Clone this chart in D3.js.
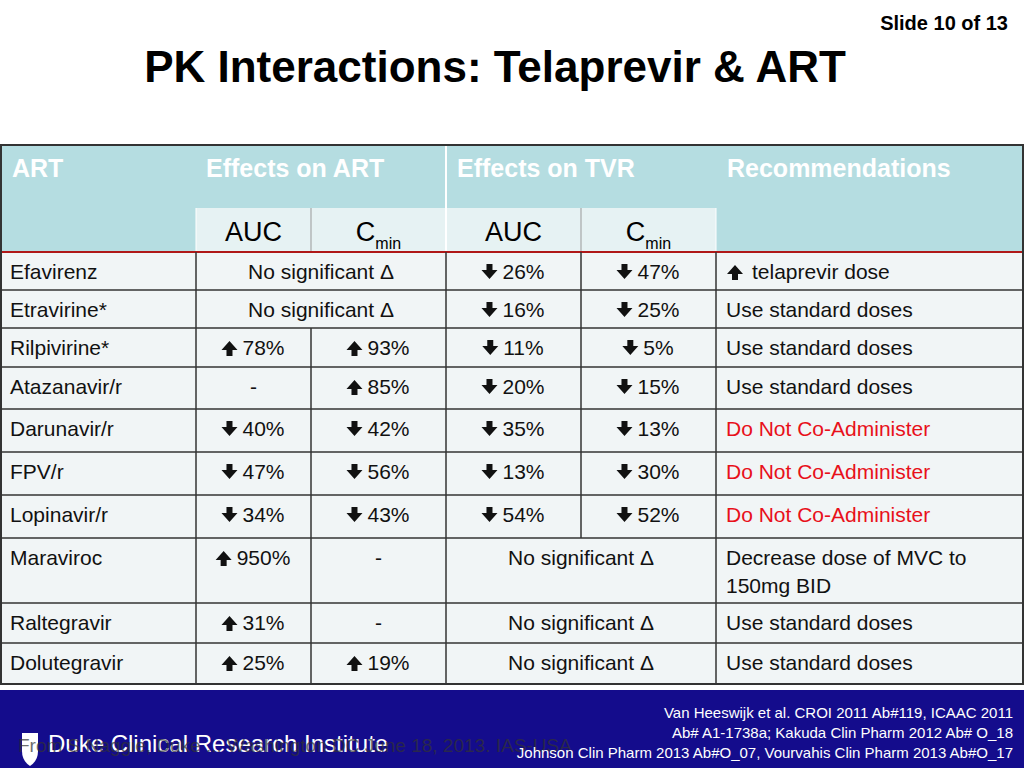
<!DOCTYPE html>
<html><head><meta charset="utf-8">
<script src="https://cdn.jsdelivr.net/npm/d3@7"></script>
<style>body{margin:0;background:#fff}svg{display:block;font-family:"Liberation Sans",Arial,sans-serif}</style>
</head><body>
<svg id="c" width="1024" height="768"></svg>
<script>
// table content: "d" = down arrow, "u" = up arrow, span cells marked with "|"
var drugs = ["Efavirenz","Etravirine*","Rilpivirine*","Atazanavir/r","Darunavir/r","FPV/r","Lopinavir/r","Maraviroc","Raltegravir","Dolutegravir"];
var artAuc  = ["|No significant Δ","|No significant Δ","u78%","-","d40%","d47%","d34%","u950%","u31%","u25%"];
var artCmin = [null,null,"u93%","u85%","d42%","d56%","d43%","-","-","u19%"];
var tvrAuc  = ["d26%","d16%","d11%","d20%","d35%","d13%","d54%","|No significant Δ","|No significant Δ","|No significant Δ"];
var tvrCmin = ["d47%","d25%","d5%","d15%","d13%","d30%","d52%",null,null,null];
var recs = ["u telaprevir dose","Use standard doses","Use standard doses","Use standard doses","Do Not Co-Administer","Do Not Co-Administer","Do Not Co-Administer","Decrease dose of MVC to\n150mg BID","Use standard doses","Use standard doses"];
var rowEdges = [252,290,328,367,409,452,495,538,603,643,684];
var colEdges = [0,196,311,446,581,716,1024];

var svg = d3.select("#c");
var y = d3.scaleOrdinal().domain(drugs).range(rowEdges.slice(0,-1));

svg.append("text").attr("x",1008).attr("y",30).attr("text-anchor","end").attr("font-size",20).attr("font-weight","bold").text("Slide 10 of 13");
svg.append("text").attr("x",495).attr("y",82).attr("text-anchor","middle").attr("font-size",44).attr("font-weight","bold").text("PK Interactions: Telaprevir & ART");

// header
svg.append("rect").attr("x",0).attr("y",145).attr("width",1024).attr("height",107).attr("fill","#b5dde1");
[[196,446],[446,716]].forEach(function(s){
  svg.append("rect").attr("x",s[0]).attr("y",208).attr("width",s[1]-s[0]).attr("height",44).attr("fill","#e6f2f3");
});
svg.append("line").attr("x1",446).attr("x2",446).attr("y1",145).attr("y2",252).attr("stroke","#fff").attr("stroke-width",2);
[311,581].forEach(function(x){svg.append("line").attr("x1",x).attr("x2",x).attr("y1",208).attr("y2",252).attr("stroke","#999");});
[196,716].forEach(function(x){svg.append("line").attr("x1",x).attr("x2",x).attr("y1",208).attr("y2",252).attr("stroke","#fff");});
[["ART",12],["Effects on ART",206],["Effects on TVR",457],["Recommendations",727]].forEach(function(h){
  svg.append("text").attr("x",h[1]).attr("y",177).attr("fill","#fff").attr("font-size",25).attr("font-weight","bold").text(h[0]);
});
[0,1,2,3].forEach(function(i){
  var cx=(colEdges[i+1]+colEdges[i+2])/2;
  var t=svg.append("text").attr("x",cx).attr("y",241).attr("text-anchor","middle").attr("font-size",27);
  if(i%2==0) t.text("AUC"); else {t.append("tspan").text("C");t.append("tspan").attr("font-size",16).attr("dy",8).text("min");}
});

// body
svg.append("rect").attr("x",0).attr("y",252).attr("width",1024).attr("height",432).attr("fill","#f1f5f6");

function arrow(g,x,cy,dir){
  var p = dir=="d" ? "M-3,-8h6v6h5l-8,9l-8,-9h5z" : "M-3,8h6v-6h5l-8,-9l-8,9h5z";
  g.append("path").attr("d",p).attr("transform","translate("+x+","+cy+")").attr("fill","#111");
}
function cell(g,s,x0,x1,r,align){
  if(s==null) return;
  var top=y(drugs[r]), cy=top+27, lines=s.split("\n");
  var col = /Co-Administer/.test(s) ? "#e8101a" : "#111";
  var dir=null;
  if(s[0]=="d"||s[0]=="u"){ if(/^[du][0-9 t]/.test(s)){dir=s[0]; s=s.slice(1);} }
  if(s[0]=="|") s=s.slice(1);
  if(align=="left"){
    var tx=x0+10;
    if(dir){arrow(g,tx+9,cy-7,dir);tx+=26;}
    s.split("\n").forEach(function(l,k){
      g.append("text").attr("x",tx).attr("y",cy+k*28).attr("font-size",21).attr("fill",col).text(l);
    });
  } else {
    var cx=(x0+x1)/2;
    var t=g.append("text").attr("x",cx+(dir?10:0)).attr("y",cy).attr("text-anchor","middle").attr("font-size",21).attr("fill",col).text(s);
    if(dir){var w=t.node().getComputedTextLength(); arrow(g,cx+10-w/2-13,cy-7,dir);}
  }
}
var g=svg.append("g");
drugs.forEach(function(d,r){
  cell(g,d,0,196,r,"left");
  if(artCmin[r]==null) cell(g,artAuc[r],196,446,r,"c"); else {cell(g,artAuc[r],196,311,r,"c");cell(g,artCmin[r],311,446,r,"c");}
  if(tvrCmin[r]==null) cell(g,tvrAuc[r],446,716,r,"c"); else {cell(g,tvrAuc[r],446,581,r,"c");cell(g,tvrCmin[r],581,716,r,"c");}
  cell(g,recs[r],716,1024,r,"left");
});
// grid
rowEdges.forEach(function(e,i){
  svg.append("line").attr("x1",0).attr("x2",1024).attr("y1",e).attr("y2",e).attr("stroke",i==0?"#b01818":"#333").attr("stroke-width",i==0?2:1.5);
});
drugs.forEach(function(d,r){
  var t=rowEdges[r],b=rowEdges[r+1];
  var xs=[196,446,716];
  if(artCmin[r]!=null) xs.push(311);
  if(tvrCmin[r]!=null) xs.push(581);
  xs.forEach(function(x){svg.append("line").attr("x1",x).attr("x2",x).attr("y1",t).attr("y2",b).attr("stroke","#333").attr("stroke-width",1.5);});
});
svg.append("rect").attr("x",1).attr("y",145).attr("width",1022).attr("height",539).attr("fill","none").attr("stroke","#333").attr("stroke-width",2);

// footer
svg.append("rect").attr("x",0).attr("y",690).attr("width",1024).attr("height",78).attr("fill","#140c8c");
svg.append("path").attr("d","M22,733h16v18q0,10,-8,15q-8,-5,-8,-15z").attr("fill","#fff");
svg.append("text").attr("x",48).attr("y",752).attr("fill","#fff").attr("font-size",24).text("Duke Clinical Research Institute");
svg.append("text").attr("x",18).attr("y",752).attr("fill","#333").attr("font-size",19).attr("opacity",0.7).text("From S Naggie, Duke ... Washington DC June 18, 2013. IAS-USA");
["Van Heeswijk et al. CROI  2011 Ab#119, ICAAC 2011","Ab# A1-1738a; Kakuda Clin Pharm 2012 Ab# O_18","Johnson Clin Pharm 2013 Ab#O_07, Vourvahis Clin Pharm 2013 Ab#O_17"].forEach(function(l,i){
  svg.append("text").attr("x",1013).attr("y",718+i*20).attr("text-anchor","end").attr("fill","#fff").attr("font-size",15).text(l);
});
</script>
</body></html>
